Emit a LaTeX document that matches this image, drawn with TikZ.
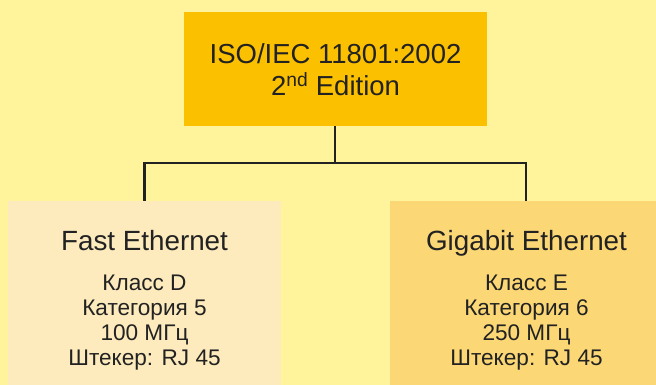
\documentclass[tikz,border=0pt]{standalone}
\usepackage{fontspec}
\setmainfont{Liberation Sans}
\definecolor{bgyellow}{RGB}{255,243,155}
\definecolor{topfill}{RGB}{251,192,0}
\definecolor{leftfill}{RGB}{253,235,189}
\definecolor{rightfill}{RGB}{251,215,117}
\definecolor{linecol}{RGB}{34,34,34}
\tikzset{
  box/.style={draw=none, inner sep=0pt, minimum width=#1},
  titlefont/.style={font=\fontsize{27.5}{30}\selectfont, anchor=base, inner sep=0pt, text=linecol},
  headfont/.style={font=\fontsize{27.8}{30}\selectfont, anchor=base, inner sep=0pt, text=linecol},
  bodyfont/.style={font=\fontsize{22.6}{25}\selectfont, anchor=base, inner sep=0pt, text=linecol},
  conn/.style={draw=linecol, line width=2.5pt}
}
\begin{document}
\begin{tikzpicture}[x=1pt,y=-1pt]
\fill[bgyellow] (0,0) rectangle (656,385);
\useasboundingbox (0,0) rectangle (656,385);
% boxes
\node[box=303pt, minimum height=114pt, fill=topfill] (top) at (335.5,69) {};
\node[box=273pt, minimum height=184pt, fill=leftfill] (left) at (144.5,293) {};
\node[box=266pt, minimum height=184pt, fill=rightfill] (right) at (523,293) {};
% connectors
\coordinate (j) at (335,163);
\coordinate (rt) at (526,201);
\draw[conn] (top.south -| j) -- (j);
\draw[conn] (left.north) |- (j) -| (rt);
% top text
\node[titlefont] (t1) at (335.5,64) {ISO/IEC 11801:2002};
\node[titlefont] (t2) at (335.5,96) {2\textsuperscript{nd} Edition};
% left text
\node[headfont] (lh) at (144.5,250) {Fast Ethernet};
\node[bodyfont] (l1) at (144.5,290) {Класс D};
\node[bodyfont] (l2) at (144.5,315) {Категория 5};
\node[bodyfont] (l3) at (144.5,340) {100 МГц};
\node[bodyfont] (l4) at (144.5,365) {Штекер: RJ 45};
% right text
\node[headfont] (rh) at (526.5,250) {Gigabit Ethernet};
\node[bodyfont] (r1) at (526.5,290) {Класс E};
\node[bodyfont] (r2) at (526.5,315) {Категория 6};
\node[bodyfont] (r3) at (526.5,340) {250 МГц};
\node[bodyfont] (r4) at (526.5,365) {Штекер: RJ 45};
\end{tikzpicture}
\end{document}
